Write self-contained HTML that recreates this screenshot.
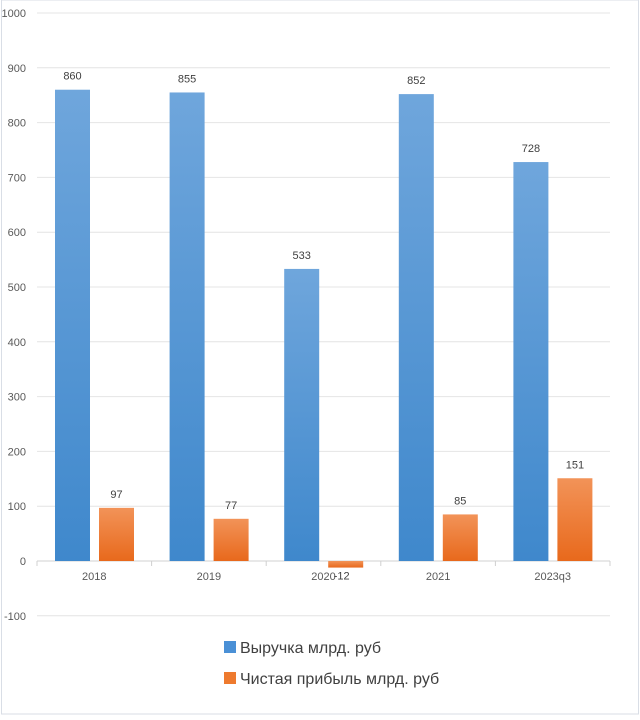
<!DOCTYPE html>
<html><head><meta charset="utf-8"><style>
body{margin:0;background:#fff;font-family:"Liberation Sans",sans-serif}
svg text{font-family:"Liberation Sans",sans-serif}
</style></head><body>
<svg width="640" height="715">
<defs>
<linearGradient id="gb" x1="0" y1="0" x2="0" y2="1"><stop offset="0" stop-color="#6fa6dc"/><stop offset="1" stop-color="#3f88cc"/></linearGradient>
<linearGradient id="go" x1="0" y1="0" x2="0" y2="1"><stop offset="0" stop-color="#f29358"/><stop offset="1" stop-color="#e8691c"/></linearGradient>
</defs>
<rect x="1.5" y="0" width="637" height="714" fill="#fff" stroke="#d9dee6"/>
<g id="grid"></g><g id="bars"></g>
<g>
<rect x="224" y="641" width="12" height="12" fill="#4a90d6"/>
<text x="240" y="653" font-size="16" fill="#404040">Выручка млрд. руб</text>
<rect x="224" y="672" width="12" height="12" fill="#ee7a2e"/>
<text x="240" y="684" font-size="16" fill="#404040">Чистая прибыль млрд. руб</text>
</g>
</svg>
<script>
const categories=["2018","2019","2020","2021","2023q3"];
const revenue=[860,855,533,852,728];
const profit=[97,77,-12,85,151];
const ticks=[-100,0,100,200,300,400,500,600,700,800,900,1000];
const NS="http://www.w3.org/2000/svg";
const L=37,R=610,Y0=561,PX=0.548;
const y=v=>Y0-v*PX;
const cw=(R-L)/categories.length;
function mk(t,a,p){const e=document.createElementNS(NS,t);for(const k in a)e.setAttribute(k,a[k]);p.appendChild(e);return e;}
const g=document.getElementById('grid'),b=document.getElementById('bars');
ticks.forEach(t=>{
 const l=mk('line',{x1:L,x2:R,y1:y(t),y2:y(t),stroke:t===0?'#d0d0d0':'#e4e4e4'},g);
 
 
 const tx=mk('text',{x:26,y:y(t)+4,'font-size':11,fill:'#595959','text-anchor':'end'},g);tx.textContent=t;
 
 
});
for(let i=0;i<=categories.length;i++){const l=mk('line',{x1:L+i*cw,x2:L+i*cw,y1:Y0,y2:Y0+5,stroke:'#d0d0d0'},g);
 
 }
categories.forEach((c,i)=>{
 const x0=L+i*cw;
 const t=mk('text',{x:x0+cw/2,y:580,'font-size':11,fill:'#595959','text-anchor':'middle'},g);t.textContent=c;
 
 
 const rv=revenue[i];
 const rb=mk('rect',{x:x0+18,y:Math.min(y(rv),Y0),width:35,height:Math.abs(rv*PX),fill:'url(#gb)'},b);
 
 
 const rl=mk('text',{x:x0+35.5,y:y(rv)-10,'font-size':11,fill:'#404040','text-anchor':'middle'},b);rl.textContent=rv;
 
 
 const pv=profit[i];
 const pb=mk('rect',{x:x0+62,y:Math.min(y(pv),Y0),width:35,height:Math.abs(pv*PX),fill:'url(#go)'},b);
 
 
 const pl=mk('text',{x:x0+79.5+(pv<0?-4:0),y:pv<0?y(pv)+12:y(pv)-10,'font-size':11,fill:'#404040','text-anchor':'middle'},b);pl.textContent=pv;
 
 
});
</script>
</body></html>
